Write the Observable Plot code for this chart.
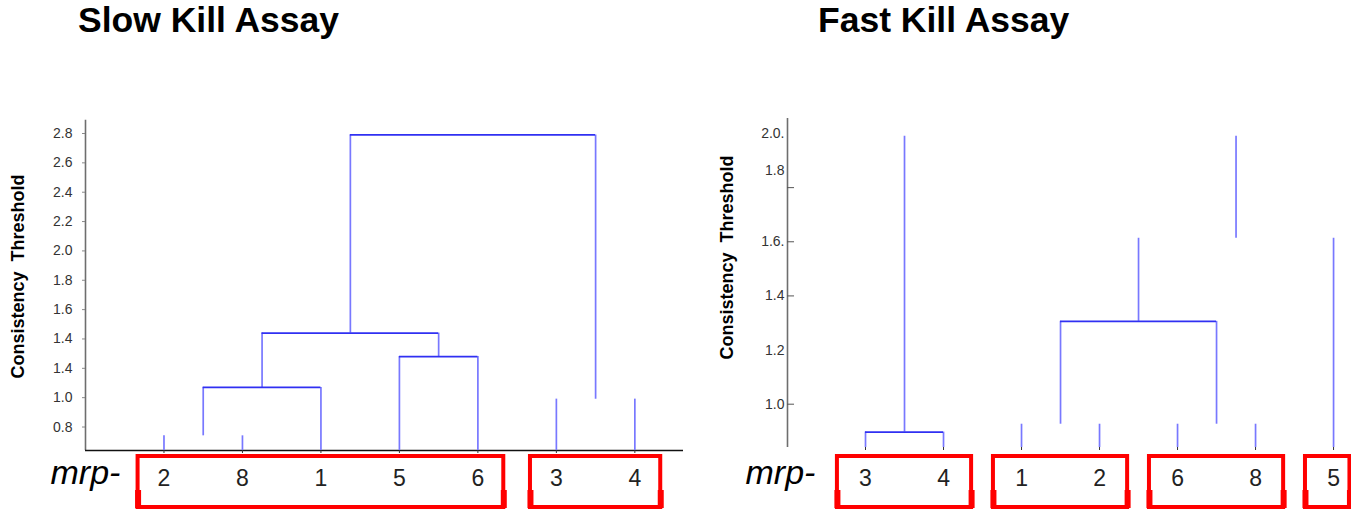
<!DOCTYPE html>
<html>
<head>
<meta charset="utf-8">
<script src="https://cdn.jsdelivr.net/npm/d3@7"></script>
<script src="https://cdn.jsdelivr.net/npm/@observablehq/plot@0.6"></script>
<style>
  html, body { margin: 0; padding: 0; background: #fff; }
  body { width: 1351px; height: 510px; overflow: hidden; position: relative; font-family: "Liberation Sans", Arial, sans-serif; }
  .title { position: absolute; top: 3px; font-weight: bold; font-size: 35.5px; line-height: 1; color: #000; white-space: nowrap; }
  .panel { position: absolute; top: 60px; }
  .panel svg { overflow: visible; }
</style>
</head>
<body>
<div class="title" style="left:78px">Slow Kill Assay</div>
<div class="title" style="left:818px">Fast Kill Assay</div>
<div class="panel" id="slow" style="left:0px"></div>
<div class="panel" id="fast" style="left:700px"></div>
<script>
// ---------------- DATA ----------------
// Slow Kill Assay
const slowLeaves = ["2", "8", "1", "5", "6", "3", "4"];
const slowLeafPos = [1, 2, 3, 4, 5, 6, 7];
const slowGroups = [[1, 5], [6, 7]];           // first / last leaf position of each boxed group
const slowTicks = [0.8, 1.0, 1.2, 1.4, 1.6, 1.8, 2.0, 2.2, 2.4, 2.6, 2.8];
const slowTickLabels = ["0.8", "1.0", "1.4", "1.4", "1.6", "1.8", "2.0", "2.2", "2.4", "2.6", "2.8"];
const slowBase = 0.64;
const slowTop = 2.89;
const slowV = [
  {x: 1, y1: slowBase, y2: 0.74},
  {x: 2, y1: slowBase, y2: 0.74},
  {x: 1.5, y1: 0.74, y2: 1.07},
  {x: 3, y1: slowBase, y2: 1.07},
  {x: 2.25, y1: 1.07, y2: 1.44},
  {x: 4, y1: slowBase, y2: 1.28},
  {x: 5, y1: slowBase, y2: 1.28},
  {x: 4.5, y1: 1.28, y2: 1.44},
  {x: 3.375, y1: 1.44, y2: 2.79},
  {x: 6, y1: slowBase, y2: 0.99},
  {x: 7, y1: slowBase, y2: 0.99},
  {x: 6.5, y1: 0.99, y2: 2.79}
];
const slowH = [
  {x1: 1.5, x2: 3, y: 1.07},
  {x1: 2.25, x2: 4.5, y: 1.44},
  {x1: 4, x2: 5, y: 1.28},
  {x1: 3.375, x2: 6.5, y: 2.79}
];

// Fast Kill Assay
const fastLeaves = ["3", "4", "1", "2", "6", "8", "5"];
const fastLeafPos = [1, 2, 3, 4, 5, 6, 7];
const fastGroups = [[1, 2], [3, 4], [5, 6], [7, 7]];
const fastTicks = [1.0, 1.2, 1.4, 1.6, 1.8, 2.0];
const fastTickLabels = ["1.0", "1.2", "1.4", "1.6.", "1.8", "2.0."];
const fastBase = 0.84;
const fastTop = 2.055;
const fastV = [
  {x: 1, y1: fastBase, y2: 0.897},
  {x: 2, y1: fastBase, y2: 0.897},
  {x: 1.5, y1: 0.897, y2: 1.99},
  {x: 3, y1: fastBase, y2: 0.926},
  {x: 4, y1: fastBase, y2: 0.926},
  {x: 5, y1: fastBase, y2: 0.926},
  {x: 6, y1: fastBase, y2: 0.926},
  {x: 3.5, y1: 0.926, y2: 1.306},
  {x: 5.5, y1: 0.926, y2: 1.306},
  {x: 4.5, y1: 1.306, y2: 1.613},
  {x: 5.75, y1: 1.613, y2: 1.99},
  {x: 7, y1: fastBase, y2: 1.613}
];
const fastH = [
  {x1: 1, x2: 2, y: 0.897},
  {x1: 3.5, x2: 5.5, y: 1.306}
];

// ---------------- DRAWING ----------------
const PAGE_TOP = 60;          // page y of the SVG top
const VCOL = "#7878ff";
const HCOL = "#3030f2";
const RED = "#ff0000";
const FONT = "Liberation Sans, Arial, sans-serif";

function panel(cfg) {
  const frameBottom = cfg.height - cfg.mB;
  const frameMid = (cfg.mT + frameBottom) / 2;
  const rel = pageY => pageY - PAGE_TOP - frameBottom; // px offset from the frame bottom
  const boxes = cfg.groups.map(([a, b]) => ({
    x1: a - cfg.pad,
    x2: Math.min(b + cfg.pad, cfg.xMax - 0.02)
  }));
  const corners = boxes.flatMap(b => [b.x1, b.x2]);
  const labelOf = new Map(cfg.ticks.map((t, i) => [t, cfg.tickLabels[i]]));
  const mainTicks = cfg.ticks.filter(t => !(cfg.shiftTick != null && t === cfg.shiftTick));
  const base = cfg.base;

  const marks = [
    // y axis line
    Plot.ruleX([0], {x: d => d, y1: () => base, y2: () => cfg.axisTop, stroke: "#6e6e6e", strokeWidth: 1.6}),
    // x axis line
    cfg.xLine ? Plot.ruleY([base], {stroke: "#111", strokeWidth: 1.5}) : null,
    // y tick labels
    Plot.axisY(mainTicks, {
      tickFormat: d => labelOf.get(d), tickSize: cfg.outerTick, tickPadding: cfg.tickPadding,
      stroke: "#888", fill: "#333", fontSize: 14, fontFamily: FONT, label: null
    }),
    cfg.shiftTick != null ? Plot.axisY([cfg.shiftTick], {
      tickFormat: d => labelOf.get(d), tickSize: 0, tickPadding: cfg.tickPadding + cfg.outerTick, dy: cfg.shiftDy,
      fill: "#333", fontSize: 14, fontFamily: FONT, label: null
    }) : null,
    cfg.innerTicks ? Plot.ruleY(cfg.innerTicks, {y: d => d, x1: () => 0, x2: () => 0.09, stroke: "#555", strokeWidth: 1}) : null,
    // small leaf ticks on the baseline
    Plot.axisX(cfg.leafPos, {tickSize: 3, tickFormat: () => "", stroke: "#333", label: null}),
    // dendrogram
    Plot.ruleX(cfg.V, {x: "x", y1: "y1", y2: "y2", stroke: VCOL, strokeWidth: 1.7}),
    Plot.ruleY(cfg.H, {y: "y", x1: "x1", x2: "x2", stroke: HCOL, strokeWidth: 1.7}),
    // red group boxes
    Plot.rect(boxes, {
      x1: "x1", x2: "x2", y1: () => base, y2: () => base,
      insetTop: rel(456), insetBottom: -rel(507),
      fill: "none", stroke: RED, strokeWidth: 4
    }),
    Plot.ruleX(corners, {
      x: d => d, y1: () => base, y2: () => base,
      insetTop: rel(490), insetBottom: -rel(508),
      stroke: RED, strokeWidth: 6
    }),
    // leaf labels
    Plot.text(cfg.leaves, {
      x: (d, i) => cfg.leafPos[i], frameAnchor: "bottom", lineAnchor: "middle", dy: rel(478), text: d => d,
      fontSize: 23, fill: "#222", fontFamily: FONT
    }),
    // mrp- prefix
    Plot.text(["mrp-"], {
      text: d => d, frameAnchor: "bottom-left", textAnchor: "start", lineAnchor: "middle",
      dx: cfg.mrpDx, dy: rel(473),
      fontSize: 34, fontStyle: "italic", fill: "#000", fontFamily: FONT
    }),
    // y axis title
    Plot.text(["Consistency\u00a0 Threshold"], {
      text: d => d, frameAnchor: "left", textAnchor: "middle", lineAnchor: "middle", rotate: -90,
      dx: cfg.titleX - cfg.mL, dy: cfg.titleY - PAGE_TOP - frameMid,
      fontSize: 18, fontWeight: "bold", fill: "#000", fontFamily: FONT
    })
  ].filter(Boolean);

  return Plot.plot({
    width: cfg.width, height: cfg.height,
    marginLeft: cfg.mL, marginRight: cfg.mR, marginTop: cfg.mT, marginBottom: cfg.mB,
    x: {type: "linear", domain: [0, cfg.xMax]},
    y: {type: "linear", domain: [base, cfg.yMax]},
    style: {fontFamily: FONT, background: "transparent", overflow: "visible"},
    marks
  });
}

document.getElementById("slow").append(panel({
  width: 700, height: 450, mL: 85, mR: 17, mT: 73, mB: 60,
  xMax: 7.62, yMax: 2.8, base: slowBase, axisTop: slowTop,
  ticks: slowTicks, tickLabels: slowTickLabels, outerTick: 3, tickPadding: 10,
  leaves: slowLeaves, leafPos: slowLeafPos, groups: slowGroups, pad: 0.33,
  V: slowV, H: slowH, xLine: true,
  mrpDx: -35, titleX: 18, titleY: 276
}));

document.getElementById("fast").append(panel({
  width: 651, height: 450, mL: 87, mR: 0, mT: 73, mB: 63,
  xMax: 7.23, yMax: 2.0, base: fastBase, axisTop: fastTop,
  ticks: fastTicks, tickLabels: fastTickLabels, outerTick: 0, tickPadding: 3,
  shiftTick: 1.8, shiftDy: -17, innerTicks: [1.0, 1.4, 1.6, 1.8],
  leaves: fastLeaves, leafPos: fastLeafPos, groups: fastGroups, pad: 0.36,
  V: fastV, H: fastH, xLine: false,
  mrpDx: -42, titleX: 27, titleY: 257
}));
</script>
</body>
</html>
